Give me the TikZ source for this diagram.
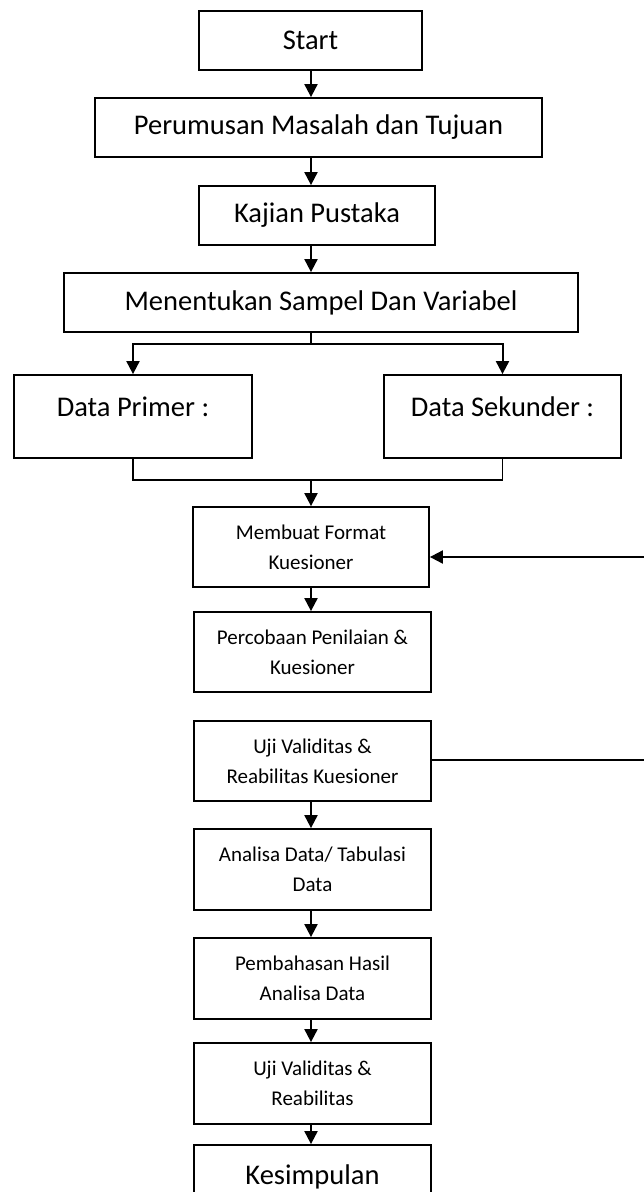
\documentclass[tikz,border=0pt]{standalone}
\usepackage{fontspec}
\setmainfont{Carlito}
\usetikzlibrary{arrows.meta}
\tikzset{
  box/.style={draw=black, line width=1.8pt, rectangle, inner sep=0pt, align=center},
  big/.style={font=\fontsize{28.5}{34}\selectfont},
  small/.style={font=\fontsize{21}{30}\selectfont},
  conn/.style={line width=1.6pt},
  arr/.style={line width=2pt, -{Triangle[length=13pt,width=13pt]}},
}
\begin{document}
\begin{tikzpicture}[x=1pt,y=-1pt]
\useasboundingbox (0,0) rectangle (644,1192);
\clip (0,0) rectangle (644,1192);
\coordinate (axis) at (311,0);
\node[box,big,minimum width=223pt,minimum height=59pt] (start) at (310.5,40.5) {Start};
\node[box,big,minimum width=447pt,minimum height=59pt] (perum) at (318.5,127.5) {Perumusan Masalah dan Tujuan};
\node[box,big,minimum width=236pt,minimum height=59pt] (kajian) at (317,215.5) {Kajian Pustaka};
\node[box,big,minimum width=514pt,minimum height=59pt] (menent) at (321,302.5) {Menentukan Sampel Dan Variabel};
\node[box,minimum width=238pt,minimum height=83pt,label={[name=primt,big,yshift=9.5pt]center:Data Primer :}] (prim) at (133,416.5) {};
\node[box,minimum width=237pt,minimum height=83pt,label={[name=sekt,big,yshift=9.5pt]center:Data Sekunder :}] (sek) at (502.5,416.5) {};
\node[box,small,minimum width=236pt,minimum height=80pt] (membuat) at (311,547) {Membuat Format\\Kuesioner};
\node[box,small,minimum width=237pt,minimum height=80pt] (percob) at (312.5,652) {Percobaan Penilaian \&\\Kuesioner};
\node[box,small,minimum width=237pt,minimum height=80pt] (uji1) at (312.5,761) {Uji Validitas \&\\Reabilitas Kuesioner};
\node[box,small,minimum width=237pt,minimum height=81pt] (analisa) at (312.5,869.5) {Analisa Data/ Tabulasi\\Data};
\node[box,small,minimum width=237pt,minimum height=81pt] (pembah) at (312.5,978.5) {Pembahasan Hasil\\Analisa Data};
\node[box,small,minimum width=237pt,minimum height=81pt] (uji2) at (312.5,1083.5) {Uji Validitas \&\\Reabilitas};
\node[box,big,minimum width=237pt,minimum height=64pt] (kesimp) at (312.5,1177) {Kesimpulan};
\coordinate (split) at (311,344);
\coordinate (join) at (311,480);
\coordinate (fbM) at (644,557);
\coordinate (fbU) at (644,760);
\draw[arr] (axis |- start.south) -- (axis |- perum.north);
\draw[arr] (axis |- perum.south) -- (axis |- kajian.north);
\draw[arr] (axis |- kajian.south) -- (axis |- menent.north);
\draw[conn] (split |- menent.south) -- (split);
\draw[arr] (split) -| (prim.north);
\draw[arr] (split) -| (sek.north);
\draw[conn] (prim.south) |- (join) -| (sek.south);
\draw[arr] (join) -- (join |- membuat.north);
\draw[arr] (fbM) -- (fbM -| membuat.east);
\draw[arr] (axis |- membuat.south) -- (axis |- percob.north);
\draw[conn] (fbU -| uji1.east) -- (fbU);
\draw[arr] (axis |- uji1.south) -- (axis |- analisa.north);
\draw[arr] (axis |- analisa.south) -- (axis |- pembah.north);
\draw[arr] (axis |- pembah.south) -- (axis |- uji2.north);
\draw[arr] (axis |- uji2.south) -- (axis |- kesimp.north);
\end{tikzpicture}
\end{document}
